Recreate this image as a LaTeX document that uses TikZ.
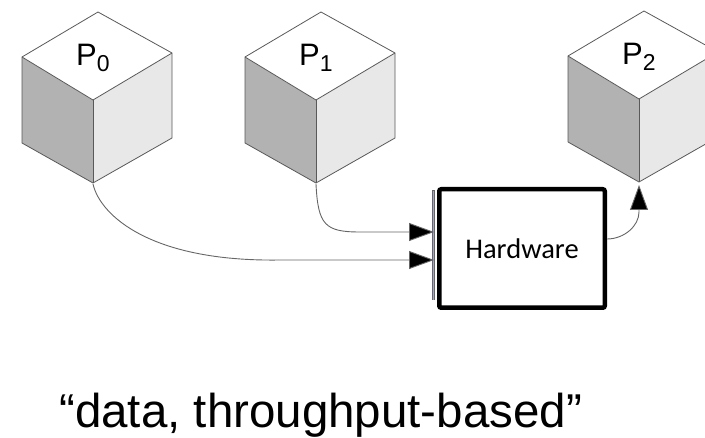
\documentclass[tikz,border=0pt]{standalone}
\usepackage{fontspec}
\setmainfont{Liberation Sans}
\newfontfamily\calibrifont{Carlito}
\usetikzlibrary{arrows.meta}

\definecolor{railblue}{RGB}{165,165,200}

\tikzset{
  cubeedge/.style={draw=black!65, line width=0.8pt, line join=round},
  conn/.style={draw=black!60, line width=0.9pt, -{Triangle[length=25pt,width=18pt,fill=black]}},
  hwbox/.style={draw=black, line width=4.5pt, rounded corners=2pt, fill=white,
    minimum width=165.5pt, minimum height=118.5pt, inner sep=0pt,
    font=\calibrifont\fontsize{28.5}{28.5}\selectfont},
  cube/.pic={
    % faces, drawn around the near vertex at the local origin
    \fill[black!30] (-71,-43) -- (0,0) -- (0,83) -- (-71,43) -- cycle;
    \fill[black!9] (0,0) -- (79,-47) -- (79,38) -- (0,83) -- cycle;
    \fill[white] (-71,-43) -- (5,-88) -- (79,-47) -- (0,0) -- cycle;
    \draw[cubeedge] (-71,-43) -- (5,-88) -- (79,-47) -- (79,38) -- (0,83)
      -- (-71,43) -- cycle;
    \draw[cubeedge] (-71,-43) -- (0,0) -- (79,-47);
    \draw[cubeedge] (0,0) -- (0,83);
    \node[anchor=base west, inner sep=0pt] (-lbl) at (-17,-34)
      {\fontsize{31}{31}\selectfont P\raisebox{-6pt}{\fontsize{23}{23}\selectfont #1}};
    \coordinate (-bot) at (0,84);
  }
}

\begin{document}
\begin{tikzpicture}[x=1pt,y=-1pt]
  \useasboundingbox (0,0) rectangle (705,438);
  \clip (0,0) rectangle (705,438);

  % three processors
  \pic (p0) at (93,100) {cube=0};
  \pic (p1) at (316,100) {cube=1};
  \pic (p2) at (639,99) {cube=2};

  % hardware block with its input rail
  \node[hwbox] (hw) at (522,248.5) {Hardware};
  \draw[draw=black!60, line width=2.6pt]
    ([shift={(-3.5,-58)}]hw.west) -- ([shift={(-3.5,52)}]hw.west);
  \draw[draw=railblue, line width=1.6pt]
    ([shift={(-3.5,-57.5)}]hw.west) -- ([shift={(-3.5,51.5)}]hw.west);

  \coordinate (in1) at ([shift={(-3,-16.5)}]hw.west);
  \coordinate (in2) at ([shift={(-3,11.5)}]hw.west);
  \coordinate (out) at ([shift={(0,-9.5)}]hw.east);
  \coordinate (p2in) at ([shift={(0,2)}]p2-bot);

  % data paths
  \draw[conn] (p0-bot) .. controls (100,215) and (150,262) .. (280,260) -- (in2);
  \draw[conn] (p1-bot) .. controls (318,225) and (325,232) .. (360,232) -- (in1);
  \draw[conn] (out) .. controls (624,239) and (639,226) .. (639,212) -- (p2in);

  % caption
  \node[anchor=base west, inner sep=0pt, font=\fontsize{47.5}{47.5}\selectfont] (cap)
    at (59,428) {“data, throughput-based”};
\end{tikzpicture}
\end{document}
